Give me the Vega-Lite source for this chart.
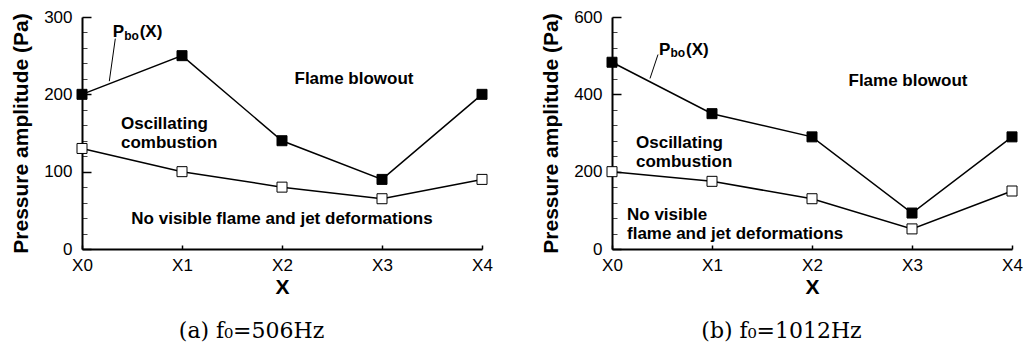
{
  "$schema": "https://vega.github.io/schema/vega-lite/v6.json",
  "padding": {"left": 10, "top": 8, "right": 0, "bottom": 0},
  "spacing": 47,
  "config": {
    "view": {"stroke": null},
    "font": "Liberation Sans",
    "axis": {
      "domainColor": "black", "domainWidth": 2, "tickColor": "black", "tickWidth": 1.5,
      "labelColor": "black", "titleColor": "black", "labelFont": "Liberation Sans", "labelFontSize": 17,
      "titleFont": "Liberation Sans", "titleFontSize": 21, "titleFontWeight": "bold", "grid": false
    }
  },
  "datasets": {
    "a": [
      {"x": 0, "series": "bo", "y": 200}, {"x": 1, "series": "bo", "y": 250}, {"x": 2, "series": "bo", "y": 140}, {"x": 3, "series": "bo", "y": 90}, {"x": 4, "series": "bo", "y": 200},
      {"x": 0, "series": "vis", "y": 130}, {"x": 1, "series": "vis", "y": 100}, {"x": 2, "series": "vis", "y": 80}, {"x": 3, "series": "vis", "y": 65}, {"x": 4, "series": "vis", "y": 90}
    ],
    "b": [
      {"x": 0, "series": "bo", "y": 483}, {"x": 1, "series": "bo", "y": 350}, {"x": 2, "series": "bo", "y": 290}, {"x": 3, "series": "bo", "y": 93}, {"x": 4, "series": "bo", "y": 290},
      {"x": 0, "series": "vis", "y": 200}, {"x": 1, "series": "vis", "y": 175}, {"x": 2, "series": "vis", "y": 130}, {"x": 3, "series": "vis", "y": 52}, {"x": 4, "series": "vis", "y": 150}
    ]
  },
  "hconcat": [
    {
      "width": 400, "height": 232,
      "title": {"text": "(a)  f₀=506Hz", "orient": "bottom", "frame": "bounds", "anchor": "middle", "font": "DejaVu Serif", "fontSize": 22, "fontWeight": "normal", "color": "black", "offset": 24},
      "resolve": {"axis": {"y": "independent"}},
      "layer": [
        {
          "data": {"name": "a"},
          "mark": {"type": "line", "color": "black", "strokeWidth": 1.5},
          "encoding": {
            "x": {"field": "x", "type": "quantitative", "scale": {"domain": [0, 4], "nice": false}, "axis": {"title": "X"}},
            "y": {"field": "y", "type": "quantitative", "scale": {"domain": [0, 300], "nice": false},
                  "axis": {"orient": "left", "values": [20, 40, 60, 80, 120, 140, 160, 180, 220, 240, 260, 280], "labels": false, "domain": false, "tickSize": -5, "tickWidth": 1, "tickColor": "#444", "title": null}},
            "detail": {"field": "series"}
          }
        },
        {
          "data": {"name": "a"},
          "mark": {"type": "square", "size": 100, "stroke": "black", "strokeWidth": 1, "opacity": 1},
          "encoding": {
            "x": {"field": "x", "type": "quantitative", "scale": {"domain": [0, 4], "nice": false},
                  "axis": {"title": "X", "values": [0, 1, 2, 3, 4], "labelExpr": "'X' + datum.value", "tickSize": -4, "labelPadding": 12, "labelFlush": false, "labelOverlap": false, "titlePadding": 3}},
            "y": {"field": "y", "type": "quantitative", "scale": {"domain": [0, 300], "nice": false},
                  "axis": {"orient": "left", "title": "Pressure amplitude (Pa)", "values": [0, 100, 200, 300], "tickSize": -9, "labelPadding": 19, "titlePadding": 12}},
            "fill": {"field": "series", "type": "nominal", "scale": {"domain": ["bo", "vis"], "range": ["black", "white"]}, "legend": null}
          }
        },
        {
          "data": {"values": [{"x": 0.273, "y": 217, "x2": 0.333, "y2": 272}]},
          "mark": {"type": "rule", "color": "black", "strokeWidth": 1},
          "encoding": {
            "x": {"field": "x", "type": "quantitative", "axis": {"title": "X"}},
            "y": {"field": "y", "type": "quantitative", "axis": null},
            "x2": {"field": "x2"}, "y2": {"field": "y2"}
          }
        },
        {
          "data": {"values": [{"label": "Flame blowout", "x": 2.72, "y": 220}, {"label": "No visible flame and jet deformations", "x": 2.0, "y": 38.5}]},
          "mark": {"type": "text", "fontSize": 17, "fontWeight": "bold", "align": "center", "baseline": "middle", "color": "black"},
          "encoding": {
            "x": {"field": "x", "type": "quantitative", "axis": {"title": "X"}},
            "y": {"field": "y", "type": "quantitative", "axis": null},
            "text": {"field": "label"}
          }
        },
        {
          "data": {"values": [{"label": "Oscillating\ncombustion", "x": 0.39, "y": 162}]},
          "mark": {"type": "text", "fontSize": 17, "fontWeight": "bold", "align": "left", "baseline": "middle", "lineBreak": "\n", "lineHeight": 19, "color": "black"},
          "encoding": {
            "x": {"field": "x", "type": "quantitative", "axis": {"title": "X"}},
            "y": {"field": "y", "type": "quantitative", "axis": null},
            "text": {"field": "label"}
          }
        },
        {
          "data": {"values": [{"x": 0.307, "y": 274}]},
          "mark": {"type": "text", "fontSize": 17, "fontWeight": "bold", "align": "left", "baseline": "alphabetic", "color": "black", "text": "P"},
          "encoding": {
            "x": {"field": "x", "type": "quantitative", "axis": {"title": "X"}},
            "y": {"field": "y", "type": "quantitative", "axis": null}
          }
        },
        {
          "data": {"values": [{"x": 0.307, "y": 274}]},
          "mark": {"type": "text", "fontSize": 12, "fontWeight": "bold", "align": "left", "baseline": "alphabetic", "dx": 11.5, "dy": 2.5, "color": "black", "text": "bo"},
          "encoding": {
            "x": {"field": "x", "type": "quantitative", "axis": {"title": "X"}},
            "y": {"field": "y", "type": "quantitative", "axis": null}
          }
        },
        {
          "data": {"values": [{"x": 0.307, "y": 274}]},
          "mark": {"type": "text", "fontSize": 17, "fontWeight": "bold", "align": "left", "baseline": "alphabetic", "dx": 27, "color": "black", "text": "(X)"},
          "encoding": {
            "x": {"field": "x", "type": "quantitative", "axis": {"title": "X"}},
            "y": {"field": "y", "type": "quantitative", "axis": null}
          }
        }
      ]
    },
    {
      "width": 400, "height": 232,
      "title": {"text": "(b)  f₀=1012Hz", "orient": "bottom", "frame": "bounds", "anchor": "middle", "font": "DejaVu Serif", "fontSize": 22, "fontWeight": "normal", "color": "black", "offset": 24},
      "resolve": {"axis": {"y": "independent"}},
      "layer": [
        {
          "data": {"name": "b"},
          "mark": {"type": "line", "color": "black", "strokeWidth": 1.5},
          "encoding": {
            "x": {"field": "x", "type": "quantitative", "scale": {"domain": [0, 4], "nice": false}, "axis": {"title": "X"}},
            "y": {"field": "y", "type": "quantitative", "scale": {"domain": [0, 600], "nice": false},
                  "axis": {"orient": "left", "values": [40, 80, 120, 160, 240, 280, 320, 360, 440, 480, 520, 560], "labels": false, "domain": false, "tickSize": -5, "tickWidth": 1, "tickColor": "#444", "title": null}},
            "detail": {"field": "series"}
          }
        },
        {
          "data": {"name": "b"},
          "mark": {"type": "square", "size": 100, "stroke": "black", "strokeWidth": 1, "opacity": 1},
          "encoding": {
            "x": {"field": "x", "type": "quantitative", "scale": {"domain": [0, 4], "nice": false},
                  "axis": {"title": "X", "values": [0, 1, 2, 3, 4], "labelExpr": "'X' + datum.value", "tickSize": -4, "labelPadding": 12, "labelFlush": false, "labelOverlap": false, "titlePadding": 3}},
            "y": {"field": "y", "type": "quantitative", "scale": {"domain": [0, 600], "nice": false},
                  "axis": {"orient": "left", "title": "Pressure amplitude (Pa)", "values": [0, 200, 400, 600], "tickSize": -9, "labelPadding": 19, "titlePadding": 12}},
            "fill": {"field": "series", "type": "nominal", "scale": {"domain": ["bo", "vis"], "range": ["black", "white"]}, "legend": null}
          }
        },
        {
          "data": {"values": [{"x": 0.38, "y": 441, "x2": 0.46, "y2": 503}]},
          "mark": {"type": "rule", "color": "black", "strokeWidth": 1},
          "encoding": {
            "x": {"field": "x", "type": "quantitative", "axis": {"title": "X"}},
            "y": {"field": "y", "type": "quantitative", "axis": null},
            "x2": {"field": "x2"}, "y2": {"field": "y2"}
          }
        },
        {
          "data": {"values": [{"label": "Flame blowout", "x": 2.96, "y": 434}]},
          "mark": {"type": "text", "fontSize": 17, "fontWeight": "bold", "align": "center", "baseline": "middle", "color": "black"},
          "encoding": {
            "x": {"field": "x", "type": "quantitative", "axis": {"title": "X"}},
            "y": {"field": "y", "type": "quantitative", "axis": null},
            "text": {"field": "label"}
          }
        },
        {
          "data": {"values": [{"label": "Oscillating\ncombustion", "x": 0.24, "y": 273}, {"label": "No visible\nflame and jet deformations", "x": 0.15, "y": 89}]},
          "mark": {"type": "text", "fontSize": 17, "fontWeight": "bold", "align": "left", "baseline": "middle", "lineBreak": "\n", "lineHeight": 19, "color": "black"},
          "encoding": {
            "x": {"field": "x", "type": "quantitative", "axis": {"title": "X"}},
            "y": {"field": "y", "type": "quantitative", "axis": null},
            "text": {"field": "label"}
          }
        },
        {
          "data": {"values": [{"x": 0.47, "y": 503}]},
          "mark": {"type": "text", "fontSize": 17, "fontWeight": "bold", "align": "left", "baseline": "alphabetic", "color": "black", "text": "P"},
          "encoding": {
            "x": {"field": "x", "type": "quantitative", "axis": {"title": "X"}},
            "y": {"field": "y", "type": "quantitative", "axis": null}
          }
        },
        {
          "data": {"values": [{"x": 0.47, "y": 503}]},
          "mark": {"type": "text", "fontSize": 12, "fontWeight": "bold", "align": "left", "baseline": "alphabetic", "dx": 11.5, "dy": 2.5, "color": "black", "text": "bo"},
          "encoding": {
            "x": {"field": "x", "type": "quantitative", "axis": {"title": "X"}},
            "y": {"field": "y", "type": "quantitative", "axis": null}
          }
        },
        {
          "data": {"values": [{"x": 0.47, "y": 503}]},
          "mark": {"type": "text", "fontSize": 17, "fontWeight": "bold", "align": "left", "baseline": "alphabetic", "dx": 27, "color": "black", "text": "(X)"},
          "encoding": {
            "x": {"field": "x", "type": "quantitative", "axis": {"title": "X"}},
            "y": {"field": "y", "type": "quantitative", "axis": null}
          }
        }
      ]
    }
  ]
}
